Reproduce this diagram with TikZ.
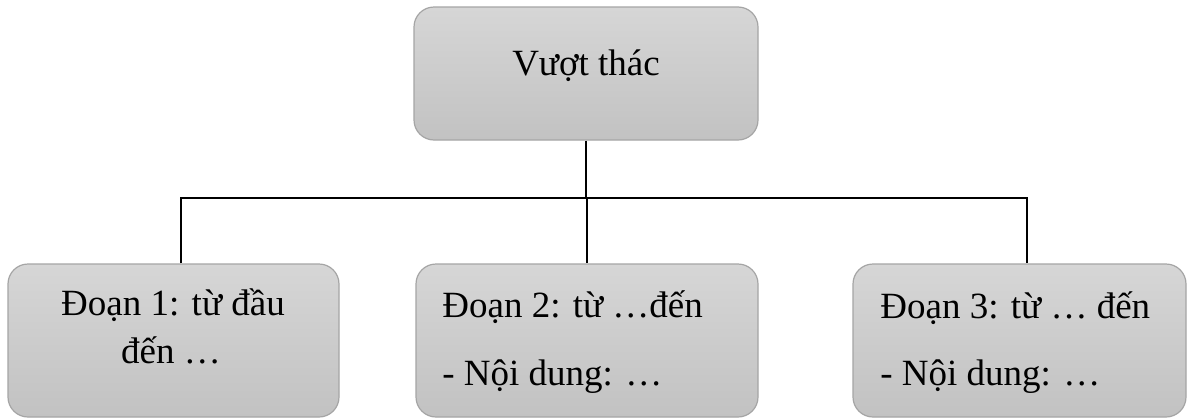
\documentclass[tikz,border=0pt]{standalone}
\usepackage{fontspec}
\setmainfont{Liberation Serif}
\usetikzlibrary{positioning}
\definecolor{boxtop}{RGB}{214,214,214}
\definecolor{boxbot}{RGB}{194,194,194}
\definecolor{boxline}{RGB}{165,165,165}
\begin{document}
\begin{tikzpicture}[x=0.5pt,y=-0.5pt,
    box/.style={draw=boxline,line width=0.6pt,rounded corners=10pt,
                top color=boxtop,bottom color=boxbot,inner sep=0pt,
                minimum height=76.5pt},
    txt/.style={inner sep=0pt,font=\fontsize{18.5}{21}\selectfont},
    wire/.style={draw=black,line width=0.8pt}]
  \useasboundingbox (0,0) rectangle (1188,418);
  % boxes
  \node[box,minimum width=172pt,minimum height=66.5pt] (title) at (586,73.5) {};
  \node[box,minimum width=165.5pt] (part1) at (173.5,340.5) {};
  \node[box,minimum width=171pt]   (part2) at (587,340.5) {};
  \node[box,minimum width=166.5pt] (part3) at (1019.5,340.5) {};
  % texts
  \node[txt,anchor=base] (titletxt) at (586,75) {Vượt thác};
  \node[txt,anchor=base] (p1a) at (173,315) {Đoạn 1: từ đầu};
  \node[txt,anchor=base] (p1b) at (171,363) {đến …};
  \node[txt,anchor=base west] (p2a) at (442,317) {Đoạn 2: từ …đến};
  \node[txt,anchor=base west] (p2b) at (442,385) {- Nội dung: …};
  \node[txt,anchor=base west] (p3a) at (880,318) {Đoạn 3: từ … đến};
  \node[txt,anchor=base west] (p3b) at (880,385) {- Nội dung: …};
  % connectors
  \coordinate (hub) at (title.south |- 0,198);
  \draw[wire] (title.south) -- (hub) -- (hub -| part2.north);
  \draw[wire] (hub -| part2.north) -- (part2.north);
  \draw[wire] ([xshift=3.75pt]part1.north) |- (hub)
              -| ([xshift=3.75pt]part3.north);
\end{tikzpicture}
\end{document}
